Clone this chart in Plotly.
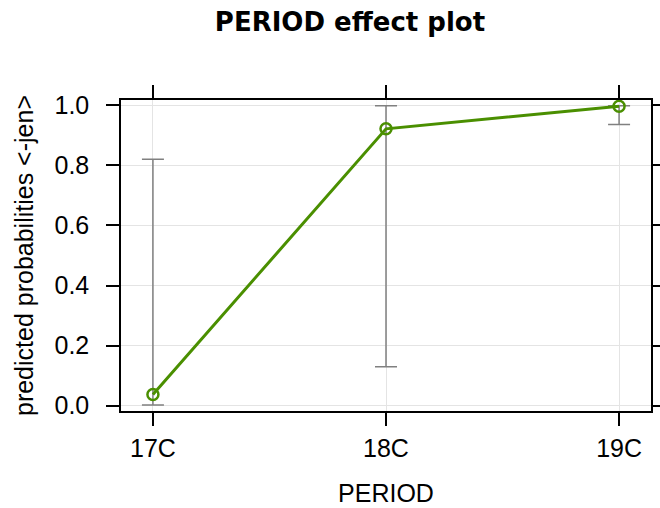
import plotly.graph_objects as go

periods = ["17C", "18C", "19C"]
prob = [0.037, 0.922, 0.997]
lower = [0.002, 0.129, 0.936]
upper = [0.821, 0.999, 0.999]
yticks = [0.0, 0.2, 0.4, 0.6, 0.8, 1.0]
ytext = ["0.0", "0.2", "0.4", "0.6", "0.8", "1.0"]

green = "rgb(74,143,0)"
gray = "rgb(128,128,128)"
grid = "rgb(228,228,228)"
font_main = "Liberation Sans, Arial, sans-serif"

fig = go.Figure()
fig.add_trace(go.Scatter(
    x=periods, y=prob, mode="markers",
    marker=dict(size=1, color="rgba(0,0,0,0)"),
    error_y=dict(type="data", symmetric=False,
                 array=[u - p for u, p in zip(upper, prob)],
                 arrayminus=[p - l for p, l in zip(prob, lower)],
                 color=gray, thickness=1.5, width=11),
    showlegend=False, hoverinfo="skip"))
fig.add_trace(go.Scatter(
    x=periods, y=prob, mode="lines+markers",
    line=dict(color=green, width=3),
    marker=dict(symbol="circle-open", size=11, color=green, line=dict(width=2.5, color=green)),
    showlegend=False))

axis_common = dict(showline=True, linecolor="black", linewidth=1.5, mirror="ticks",
                   ticks="outside", ticklen=13, tickwidth=1.5, tickcolor="black",
                   showgrid=True, gridcolor=grid, gridwidth=1.2, zeroline=False,
                   automargin=False,
                   tickfont=dict(family=font_main, size=25, color="black"))

fig.update_layout(
    width=660, height=508,
    margin=dict(l=121, r=9, t=100, b=97),
    paper_bgcolor="white", plot_bgcolor="white",
    title=dict(text="<b>PERIOD effect plot</b>", x=350/660, xanchor="center",
               y=1 - 22/508, yanchor="middle", yref="container", xref="container",
               font=dict(family="DejaVu Sans, sans-serif", size=26, color="black")),
    xaxis=dict(**axis_common, type="category", categoryorder="array", categoryarray=periods,
               range=[-0.137, 2.137], ticklabelstandoff=1,
               title=dict(text="PERIOD", standoff=24,
                          font=dict(family=font_main, size=25, color="black"))),
    yaxis=dict(**axis_common, range=[-0.018, 1.018], tickvals=yticks, ticktext=ytext,
               ticklabelstandoff=12,
               title=dict(text="predicted probabilities <-jen>", standoff=14,
                          font=dict(family=font_main, size=25, color="black"))),
)

fig.write_html("out.html")
